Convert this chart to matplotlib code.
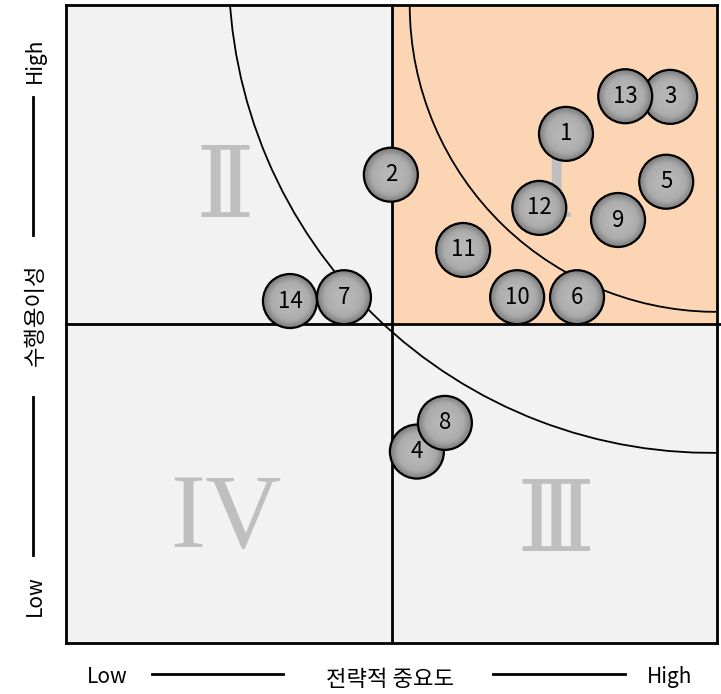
import numpy as np
import matplotlib
matplotlib.use("Agg")
import matplotlib.pyplot as plt
from matplotlib.patches import Rectangle, Ellipse, Arc
from matplotlib.lines import Line2D
from matplotlib.colors import LinearSegmentedColormap

plt.rcParams['font.family'] = ['Noto Sans CJK KR', 'DejaVu Sans']

# item numbers and their positions (strategic importance, feasibility) on a 0-10 scale
ids = [1, 2, 3, 4, 5, 6, 7, 8, 9, 10, 11, 12, 13, 14]
importance = [7.68, 4.99, 9.28, 5.39, 9.22, 7.85, 4.27, 5.82, 8.48, 6.93, 6.10, 7.27, 8.59, 3.44]
feasibility = [7.98, 7.34, 8.56, 3.00, 7.23, 5.42, 5.42, 3.45, 6.63, 5.42, 6.16, 6.82, 8.57, 5.36]

quadrant_names = ['Ⅰ', 'Ⅱ', 'Ⅲ', 'IV']
quadrant_pos = [(7.53, 7.1), (2.44, 7.1), (7.53, 1.87), (2.46, 1.9)]
quadrant_fonts = ['DejaVu Serif', 'DejaVu Serif', 'DejaVu Serif', 'Liberation Serif']
quadrant_sizes = [72, 72, 72, 76]

x_label = '전략적 중요도'
y_label = '수행용이성'

W, H = 721, 694
fig = plt.figure(figsize=(W / 100, H / 100), dpi=100)
ax = fig.add_axes([66 / W, 1 - 643 / H, 651 / W, 638 / H])
ax.set_xlim(0, 10)
ax.set_ylim(0, 10)
ax.set_xticks([])
ax.set_yticks([])
for s in ax.spines.values():
    s.set_linewidth(2)
    s.set_zorder(10)

# quadrant backgrounds
ax.add_patch(Rectangle((0, 0), 5, 5, color='#F2F2F2', zorder=0))
ax.add_patch(Rectangle((5, 0), 5, 5, color='#F2F2F2', zorder=0))
ax.add_patch(Rectangle((0, 5), 5, 5, color='#F2F2F2', zorder=0))
ax.add_patch(Rectangle((5, 5), 5, 5, color='#FCD5B5', zorder=0))

ax.axvline(5, color='black', lw=2, zorder=3)
ax.plot([0, 10.05], [5, 5], color='black', lw=2, zorder=3, clip_on=False)

for name, (qx, qy), f, fs in zip(quadrant_names, quadrant_pos, quadrant_fonts, quadrant_sizes):
    ax.text(qx, qy, name, fontsize=fs, color='#BFBFBF', ha='center', va='center',
            family=[f], zorder=1)

# arcs
ax.add_patch(Arc((9.92, 10.55), 2 * 7.42, 2 * 7.57, theta1=180, theta2=272,
                 color='black', lw=1.3, zorder=2))
ax.add_patch(Arc((10.0, 10.0), 2 * 4.72, 2 * 4.81, theta1=180, theta2=272,
                 color='black', lw=1.3, zorder=2))

# gradient bubbles
cmap = LinearSegmentedColormap.from_list('bub', ['#B8B8B8', '#ABABAB', '#7A7A7A'])
g = np.linspace(-1, 1, 101)
gx, gy = np.meshgrid(g, g)
rr = np.clip(np.sqrt(gx ** 2 + gy ** 2), 0, 1)
rpx = 27
rx, ry = rpx / 65.1, rpx / 63.8
for i, (x, y) in enumerate(zip(importance, feasibility)):
    z = 5 + i * 0.1
    e = Ellipse((x, y), 2 * rx, 2 * ry, facecolor='none', edgecolor='black', lw=1.6, zorder=z + 0.02)
    ax.add_patch(e)
    im = ax.imshow(rr ** 2, cmap=cmap, vmin=0, vmax=1, extent=(x - rx, x + rx, y - ry, y + ry),
                   zorder=z, interpolation='bilinear')
    clip = Ellipse((x, y), 2 * rx, 2 * ry, transform=ax.transData)
    im.set_clip_path(clip)
    ax.text(x, y, str(ids[i]), fontsize=16, ha='center', va='center', zorder=z + 0.03)
ax.set_xlim(0, 10)
ax.set_ylim(0, 10)
ax.set_aspect('auto')

# axis captions
def fx(px):
    return px / W

def fy(py):
    return 1 - py / H

fig.text(fx(35), fy(60), 'High', rotation=90, fontsize=15, ha='center', va='center')
fig.text(fx(35), fy(315), y_label, rotation=90, fontsize=16, ha='center', va='center')
fig.text(fx(35), fy(596), 'Low', rotation=90, fontsize=15, ha='center', va='center')
fig.add_artist(Line2D([fx(33), fx(33)], [fy(97), fy(235)], color='black', lw=2))
fig.add_artist(Line2D([fx(33), fx(33)], [fy(397), fy(555)], color='black', lw=2))

fig.text(fx(107), fy(677), 'Low', fontsize=15, ha='center', va='center')
fig.text(fx(390), fy(680), x_label, fontsize=16, ha='center', va='center')
fig.text(fx(670), fy(677), 'High', fontsize=15, ha='center', va='center')
fig.add_artist(Line2D([fx(152), fx(283)], [fy(674), fy(674)], color='black', lw=2))
fig.add_artist(Line2D([fx(493), fx(625)], [fy(674), fy(674)], color='black', lw=2))

fig.savefig('out.png', dpi=100)
